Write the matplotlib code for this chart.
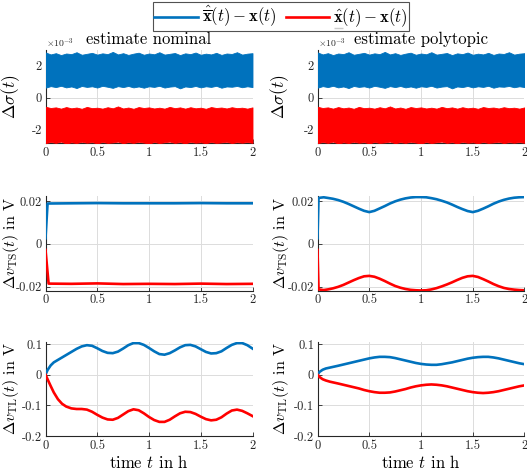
import numpy as np
import matplotlib
matplotlib.use("Agg")
import matplotlib.pyplot as plt
from matplotlib.lines import Line2D

plt.rcParams['font.family'] = ['cmr10', 'DejaVu Serif']
plt.rcParams['mathtext.fontset'] = 'cm'
plt.rcParams['axes.unicode_minus'] = False
plt.rcParams['axes.formatter.use_mathtext'] = True

BLUE = '#0072BD'
RED = '#FF0000'
AXC = '#262626'

# ---------------- data ----------------
# Row 1: noise bands (envelopes, units of 1e-3)
t_band = [0.00, 0.05, 0.10, 0.15, 0.20, 0.25, 0.30, 0.35, 0.40, 0.45, 0.50,
          0.55, 0.60, 0.65, 0.70, 0.75, 0.80, 0.85, 0.90, 0.95, 1.00,
          1.05, 1.10, 1.15, 1.20, 1.25, 1.30, 1.35, 1.40, 1.45, 1.50,
          1.55, 1.60, 1.65, 1.70, 1.75, 1.80, 1.85, 1.90, 1.95, 2.00]
sig_up_hi = [2.85, 2.72, 2.80, 2.68, 2.78, 2.74, 2.86, 2.70, 2.76, 2.82, 2.71,
             2.79, 2.74, 2.88, 2.72, 2.80, 2.69, 2.77, 2.83, 2.70, 2.78,
             2.73, 2.86, 2.71, 2.76, 2.81, 2.68, 2.79, 2.74, 2.84, 2.70,
             2.77, 2.72, 2.82, 2.69, 2.78, 2.75, 2.86, 2.71, 2.77, 2.80]
sig_up_lo = [0.62, 0.72, 0.66, 0.74, 0.64, 0.70, 0.60, 0.73, 0.67, 0.71, 0.63,
             0.74, 0.68, 0.61, 0.72, 0.66, 0.73, 0.64, 0.70, 0.62, 0.71,
             0.67, 0.74, 0.63, 0.69, 0.72, 0.58, 0.70, 0.66, 0.73, 0.64,
             0.71, 0.67, 0.74, 0.62, 0.70, 0.68, 0.73, 0.65, 0.71, 0.66]
sig_lo_hi = [-0.58, -0.66, -0.62, -0.70, -0.60, -0.68, -0.63, -0.71, -0.59, -0.67, -0.64,
             -0.70, -0.61, -0.68, -0.56, -0.69, -0.63, -0.71, -0.60, -0.66, -0.62,
             -0.69, -0.64, -0.70, -0.59, -0.67, -0.62, -0.70, -0.61, -0.68, -0.64,
             -0.71, -0.60, -0.66, -0.63, -0.69, -0.61, -0.67, -0.64, -0.70, -0.62]
sig_lo_lo = [-2.88, -2.80, -2.86, -2.78, -2.90, -2.82, -2.87, -2.79, -2.85, -2.81, -2.89,
             -2.80, -2.86, -2.83, -2.78, -2.88, -2.81, -2.86, -2.79, -2.84, -2.90,
             -2.80, -2.87, -2.82, -2.78, -2.86, -2.81, -2.89, -2.79, -2.85, -2.82,
             -2.88, -2.80, -2.86, -2.83, -2.79, -2.87, -2.81, -2.85, -2.80, -2.86]

# Row 2 (left, nominal): v_TS errors
t_ts_nom = [0.00, 0.02, 0.25, 0.50, 0.75, 1.00, 1.25, 1.50, 1.75, 2.00]
ts_nom_up = [0.0026, 0.0188, 0.0189, 0.0190, 0.0189, 0.0189, 0.0189, 0.0190, 0.0189, 0.0189]
t_ts_nom_lo = [0.00, 0.03, 0.25, 0.50, 0.75, 1.00, 1.25, 1.50, 1.75, 2.00]
ts_nom_lo = [-0.0028, -0.0185, -0.0186, -0.0184, -0.0187, -0.0186, -0.0187, -0.0185, -0.0187, -0.0186]

# Row 2 (right, polytopic)
t_ts_pol = [0.00, 0.01, 0.06, 0.10, 0.15, 0.20, 0.25, 0.30, 0.35, 0.40, 0.45, 0.50,
            0.55, 0.60, 0.65, 0.70, 0.75, 0.80, 0.85, 0.90, 0.95, 1.00,
            1.05, 1.10, 1.15, 1.20, 1.25, 1.30, 1.35, 1.40, 1.45, 1.50,
            1.55, 1.60, 1.65, 1.70, 1.75, 1.80, 1.85, 1.90, 1.95, 2.00]
ts_pol_up = [0.0026, 0.0214, 0.0217, 0.0214, 0.0210, 0.0204, 0.0196, 0.0186, 0.0175, 0.0164, 0.0154, 0.0148,
             0.0154, 0.0165, 0.0176, 0.0188, 0.0198, 0.0206, 0.0212, 0.0216, 0.0218, 0.0218,
             0.0217, 0.0213, 0.0208, 0.0201, 0.0193, 0.0183, 0.0172, 0.0162, 0.0153, 0.0148,
             0.0154, 0.0164, 0.0175, 0.0187, 0.0197, 0.0205, 0.0211, 0.0215, 0.0217, 0.0218]
ts_pol_lo = [-0.0028, -0.0212, -0.0215, -0.0212, -0.0207, -0.0200, -0.0191, -0.0180, -0.0169, -0.0159, -0.0151, -0.0149,
             -0.0153, -0.0162, -0.0173, -0.0185, -0.0196, -0.0204, -0.0210, -0.0214, -0.0216, -0.0217,
             -0.0216, -0.0212, -0.0206, -0.0198, -0.0189, -0.0179, -0.0168, -0.0158, -0.0151, -0.0149,
             -0.0154, -0.0164, -0.0175, -0.0187, -0.0197, -0.0205, -0.0210, -0.0213, -0.0215, -0.0216]

# Row 3: v_TL errors
t_tl = [0.00, 0.02, 0.05, 0.08, 0.12, 0.16, 0.20, 0.25, 0.30, 0.35, 0.40, 0.45, 0.50,
        0.55, 0.60, 0.65, 0.70, 0.75, 0.80, 0.85, 0.90, 0.95, 1.00,
        1.05, 1.10, 1.15, 1.20, 1.25, 1.30, 1.35, 1.40, 1.45, 1.50,
        1.55, 1.60, 1.65, 1.70, 1.75, 1.80, 1.85, 1.90, 1.95, 2.00]
tl_nom_up = [0.000, 0.015, 0.030, 0.040, 0.048, 0.056, 0.064, 0.074, 0.084, 0.092, 0.096, 0.094, 0.086,
             0.077, 0.071, 0.070, 0.075, 0.085, 0.096, 0.103, 0.103, 0.097, 0.087,
             0.076, 0.067, 0.065, 0.070, 0.079, 0.089, 0.096, 0.097, 0.092, 0.083,
             0.074, 0.069, 0.070, 0.076, 0.087, 0.097, 0.103, 0.103, 0.096, 0.085]
tl_nom_lo = [0.000, -0.015, -0.037, -0.058, -0.080, -0.095, -0.104, -0.110, -0.112, -0.112, -0.114, -0.121, -0.131,
             -0.140, -0.146, -0.147, -0.141, -0.130, -0.119, -0.113, -0.116, -0.126, -0.138,
             -0.148, -0.154, -0.154, -0.147, -0.136, -0.126, -0.121, -0.122, -0.128, -0.137,
             -0.145, -0.149, -0.147, -0.139, -0.127, -0.117, -0.114, -0.118, -0.126, -0.135]
tl_pol_up = [0.000, 0.009, 0.016, 0.020, 0.023, 0.026, 0.029, 0.033, 0.037, 0.041, 0.045, 0.049, 0.053,
             0.056, 0.058, 0.058, 0.057, 0.054, 0.050, 0.046, 0.042, 0.038, 0.035,
             0.033, 0.032, 0.032, 0.034, 0.037, 0.040, 0.044, 0.048, 0.052, 0.055,
             0.057, 0.058, 0.058, 0.056, 0.053, 0.049, 0.045, 0.041, 0.037, 0.034]
tl_pol_lo = [0.000, -0.008, -0.015, -0.019, -0.023, -0.026, -0.029, -0.033, -0.037, -0.041, -0.045, -0.050, -0.054,
             -0.057, -0.059, -0.059, -0.058, -0.055, -0.051, -0.047, -0.042, -0.038, -0.035,
             -0.033, -0.032, -0.033, -0.035, -0.038, -0.042, -0.046, -0.050, -0.054, -0.057,
             -0.059, -0.060, -0.059, -0.057, -0.054, -0.050, -0.046, -0.042, -0.038, -0.035]

xticks = [0, 0.5, 1, 1.5, 2]
xticklabels = ['0', '0.5', '1', '1.5', '2']

# ---------------- layout ----------------
W, H = 527, 473
fig = plt.figure(figsize=(W / 100, H / 100), dpi=100)

def rect(x0, x1, y0, y1):
    return [x0 / W, 1 - y1 / H, (x1 - x0) / W, (y1 - y0) / H]

cols = [(45.5, 252.5), (317.5, 524.5)]
rows = [(50, 143.5), (196, 290.7), (341.5, 436)]

TICK_FS = 9
LAB_FS = 11.5
LW = 1.9

def style(ax, yticks, yticklabels, ylim):
    ax.set_xlim(0, 2)
    ax.set_ylim(*ylim)
    ax.set_xticks(xticks)
    ax.set_xticklabels(xticklabels)
    ax.set_yticks(yticks)
    ax.set_yticklabels(yticklabels)
    for s in ['top', 'right']:
        ax.spines[s].set_visible(False)
    for s in ['left', 'bottom']:
        ax.spines[s].set_color(AXC)
        ax.spines[s].set_linewidth(0.8)
    ax.tick_params(direction='in', length=3, width=0.6, color=AXC,
                   labelcolor=AXC, labelsize=TICK_FS, pad=2.5)
    ax.grid(True, color='#dcdcdc', linewidth=0.7)
    ax.set_axisbelow(True)

axes = [[fig.add_axes(rect(c[0], c[1], r[0], r[1])) for c in cols] for r in rows]

titles = ['estimate nominal', 'estimate polytopic']
tb = np.array(t_band)
for j in range(2):
    ax = axes[0][j]
    ax.fill_between(tb, np.array(sig_up_lo) * 1e-3, np.array(sig_up_hi) * 1e-3,
                    color=BLUE, lw=0.6, edgecolor=BLUE, zorder=3)
    ax.fill_between(tb, np.array(sig_lo_lo) * 1e-3, np.array(sig_lo_hi) * 1e-3,
                    color=RED, lw=0.6, edgecolor=RED, zorder=3)
    style(ax, [-2e-3, 0, 2e-3], ['-2', '0', '2'], (-2.9e-3, 3.0e-3))
    ax.set_title(titles[j], fontsize=LAB_FS + 0.5, pad=4, color='black')
    ax.text(0.0, 1.0, r'$\times10^{-3}$', transform=ax.transAxes, fontsize=7,
            color=AXC, ha='left', va='bottom')
    ax.set_ylabel(r'$\Delta\sigma(t)$', fontsize=LAB_FS + 1)

# Row 2
axes[1][0].plot(t_ts_nom, ts_nom_up, color=BLUE, lw=LW, zorder=3)
axes[1][0].plot(t_ts_nom_lo, ts_nom_lo, color=RED, lw=LW, zorder=3)
axes[1][1].plot(t_ts_pol, ts_pol_up, color=BLUE, lw=LW, zorder=3)
axes[1][1].plot(t_ts_pol, ts_pol_lo, color=RED, lw=LW, zorder=3)
for j in range(2):
    style(axes[1][j], [-0.02, 0, 0.02], ['-0.02', '0', '0.02'], (-0.0218, 0.0223))
    axes[1][j].set_ylabel(r'$\Delta v_{\mathrm{TS}}(t)$ in V', fontsize=LAB_FS)

# Row 3
axes[2][0].plot(t_tl, tl_nom_up, color=BLUE, lw=LW, zorder=3)
axes[2][0].plot(t_tl, tl_nom_lo, color=RED, lw=LW, zorder=3)
axes[2][1].plot(t_tl, tl_pol_up, color=BLUE, lw=LW, zorder=3)
axes[2][1].plot(t_tl, tl_pol_lo, color=RED, lw=LW, zorder=3)
for j in range(2):
    style(axes[2][j], [-0.2, -0.1, 0, 0.1], ['-0.2', '-0.1', '0', '0.1'], (-0.2, 0.108))
    axes[2][j].set_ylabel(r'$\Delta v_{\mathrm{TL}}(t)$ in V', fontsize=LAB_FS)
    axes[2][j].set_xlabel(r'time $t$ in h', fontsize=LAB_FS + 0.5, labelpad=2)

for i in range(3):
    axes[i][0].yaxis.set_label_coords((21.5 - 45.5) / 207, 0.5)
    axes[i][1].yaxis.set_label_coords((291 - 317.5) / 207, 0.5)

# Legend
LEG_FS = 12
lab1 = r'$\hat{\overline{\mathbf{x}}}(t)-\mathbf{x}(t)$'
lab2 = r'$\hat{\mathbf{x}}(t)-\mathbf{x}(t)$'
h1, = axes[0][0].plot([], [], color=BLUE, lw=LW)
h2, = axes[0][0].plot([], [], color=RED, lw=LW)
leg = fig.legend([h1, h2], [lab1, lab2], loc='center',
                 bbox_to_anchor=(281 / W, 1 - 16.5 / H), ncol=2,
                 fontsize=LEG_FS, frameon=True, fancybox=False,
                 edgecolor=AXC, handlelength=2.6, columnspacing=0.55,
                 handletextpad=0.25, borderpad=0.08, borderaxespad=0.0)
leg.get_frame().set_linewidth(0.8)

# underline under the x-hat of the second legend entry
fig.canvas.draw()
renderer = fig.canvas.get_renderer()
t2 = leg.get_texts()[1]
bb = t2.get_window_extent(renderer)
tmp = fig.text(0, 0, r'$\hat{\mathbf{x}}$', fontsize=LEG_FS)
wb = tmp.get_window_extent(renderer)
tmp.remove()
fpx = LEG_FS * 100 / 72
yu = bb.y0 + 0.09 * fpx
x0u = bb.x0 + 0.5
x1u = bb.x0 + wb.width - 0.5
fig.add_artist(Line2D([x0u / W, x1u / W], [yu / H, yu / H],
                      transform=fig.transFigure, color='black', lw=1.0,
                      solid_capstyle='butt'))

fig.savefig('out.png', dpi=100)
